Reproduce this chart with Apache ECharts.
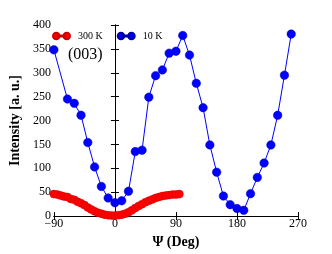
<!DOCTYPE html>
<html><head><meta charset="utf-8">
<script src="https://cdn.jsdelivr.net/npm/echarts@6/dist/echarts.min.js"></script>
<style>html,body{margin:0;padding:0;background:#fff}#c{width:332px;height:254px}</style>
</head><body><div id="c"></div>
<script>
var blueX = [-90,-70,-60,-50,-40,-30,-20,-10,0,10,20,30,40,50,60,70,80,90,100,110,120,130,140,150,160,170,180,190,200,210,220,230,240,250,260];
var blueY = [348,245,236,211,154,103,62,38,28,32,52,135,138,249,294,306,341,345,378,337,278,227,149,92,42,24,16,12,47,81,111,149,211,295,381];
var redX = [-90,-85,-80,-75,-70,-65,-60,-55,-50,-45,-40,-35,-30,-25,-20,-15,-10,-5,0,5,10,15,20,25,30,35,40,45,50,55,60,65,70,75,80,85,90,95];
var redY = [46,45,43,41,40,36,34,30,27,23,18,14,10,7,5,3,2,1,1,2,3,5,8,12,17,21,25,29,32,35,38,40,42,43,44,45,45,46];
var xTicks = [-90,0,90,180,270];
var yTicks = [0,50,100,150,200,250,300,350,400];
var seriesNames = ['300 K','10 K'];
var annotation = '(003)';

function pairs(xs, ys){ return xs.map(function(x,i){return [x, ys[i]];}); }
var serif = 'Liberation Serif';
var icon = 'path://M0,5a5,5 0 1,0 10,0a5,5 0 1,0 -10,0zM8,4.4h10v1.2h-10zM16,5a5,5 0 1,0 10,0a5,5 0 1,0 -10,0z';
var chart = echarts.init(document.getElementById('c'));
chart.setOption({
  animation:false,
  grid:{left:47,right:34,top:25,bottom:31},
  legend:{left:52,top:31,padding:0,itemWidth:17,itemHeight:8,itemGap:14,
    textStyle:{fontFamily:serif,fontSize:10,color:'#000',padding:[0,0,0,3]},
    data:[{name:seriesNames[0],icon:icon},{name:seriesNames[1],icon:icon}]},
  graphic:[{type:'text',left:68,top:47,style:{text:annotation,font:'16px "Liberation Serif"',fill:'#000'}}],
  xAxis:[{type:'value',min:xTicks[0],max:xTicks[xTicks.length-1],interval:90,
    name:'Ψ (Deg)',nameLocation:'middle',nameGap:17,
    nameTextStyle:{fontFamily:serif,fontWeight:'bold',fontSize:14,color:'#000'},
    axisLine:{show:true,onZero:false,lineStyle:{color:'#000',width:1}},
    axisTick:{show:true,inside:true,length:4,lineStyle:{color:'#000'}},
    axisLabel:{fontFamily:serif,fontSize:12,color:'#000',margin:2,formatter:function(v){return String(v).replace('-','\u2212');}},
    splitLine:{show:false}},
   {type:'value',position:'top',min:xTicks[0],max:xTicks[xTicks.length-1],interval:90,
    axisLine:{show:true,lineStyle:{color:'#000',width:1}},
    axisTick:{show:true,inside:true,length:4,lineStyle:{color:'#000'}},
    axisLabel:{show:false},splitLine:{show:false}}],
  yAxis:[{type:'value',min:yTicks[0],max:yTicks[yTicks.length-1],interval:50,
    name:'Intensity [a. u.]',nameLocation:'middle',nameGap:30,
    nameTextStyle:{fontFamily:serif,fontWeight:'bold',fontSize:14,color:'#000'},
    axisLine:{show:true,lineStyle:{color:'#000',width:1}},
    axisTick:{show:true,inside:true,length:4,lineStyle:{color:'#000'}},
    axisLabel:{fontFamily:serif,fontSize:12,color:'#000',margin:3},
    splitLine:{show:false}},
   {type:'value',position:'right',min:yTicks[0],max:yTicks[yTicks.length-1],interval:50,
    axisLine:{show:true,lineStyle:{color:'#000',width:1}},
    axisTick:{show:true,inside:true,length:4,lineStyle:{color:'#000'}},
    axisLabel:{show:false},splitLine:{show:false}}],
  series:[
    {name:seriesNames[0],type:'line',data:pairs(redX,redY),symbol:'circle',symbolSize:8,
      lineStyle:{color:'#ff0000',width:1},itemStyle:{color:'#ff0000',borderColor:'#cc0000',borderWidth:0.5},z:3},
    {name:seriesNames[1],type:'line',data:pairs(blueX,blueY),symbol:'circle',symbolSize:8.5,
      lineStyle:{color:'#0000ff',width:1},itemStyle:{color:'#0000ff',borderColor:'#0000aa',borderWidth:0.5},z:4}
  ]
});
</script></body></html>
